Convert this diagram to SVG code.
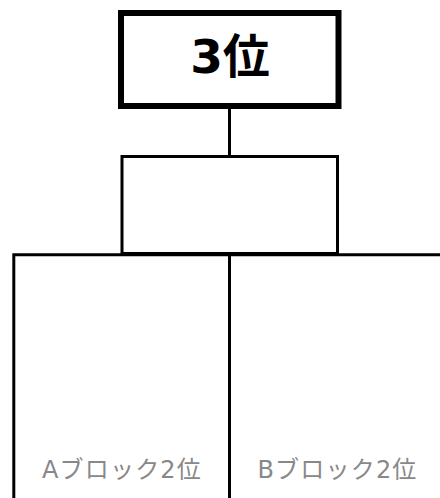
<svg xmlns="http://www.w3.org/2000/svg" width="440" height="498" viewBox="0 0 440 498">
<style>
.ln{stroke:#000;fill:none}
.t{font-family:"DejaVu Sans","Noto Sans CJK JP",sans-serif}
.lbl{font-size:24px;fill:#888;text-anchor:middle;letter-spacing:1.2px}
</style>
<rect width="440" height="498" fill="#fff"/>
<g id="connectors">
<line class="ln" x1="229.5" y1="109" x2="229.5" y2="157" stroke-width="3"/>
<rect class="ln" x="122" y="156.5" width="215.5" height="97" stroke-width="3"/>
<polyline class="ln" points="13.8,498 13.8,254.8 445,254.8 445,498" stroke-width="3"/>
<line class="ln" x1="229.5" y1="254.8" x2="229.5" y2="498" stroke-width="3"/>
</g>
<g id="node-3rd">
<rect class="ln" x="121" y="13" width="217.5" height="93" stroke-width="6"/>
<text class="t" x="230" y="73" font-size="47" font-weight="bold" text-anchor="middle">3位</text>
</g>
<g id="node-a2">
<text class="t lbl" x="122" y="478">Aブロック2位</text>
</g>
<g id="node-b2">
<text class="t lbl" x="337.5" y="478">Bブロック2位</text>
</g>
</svg>
